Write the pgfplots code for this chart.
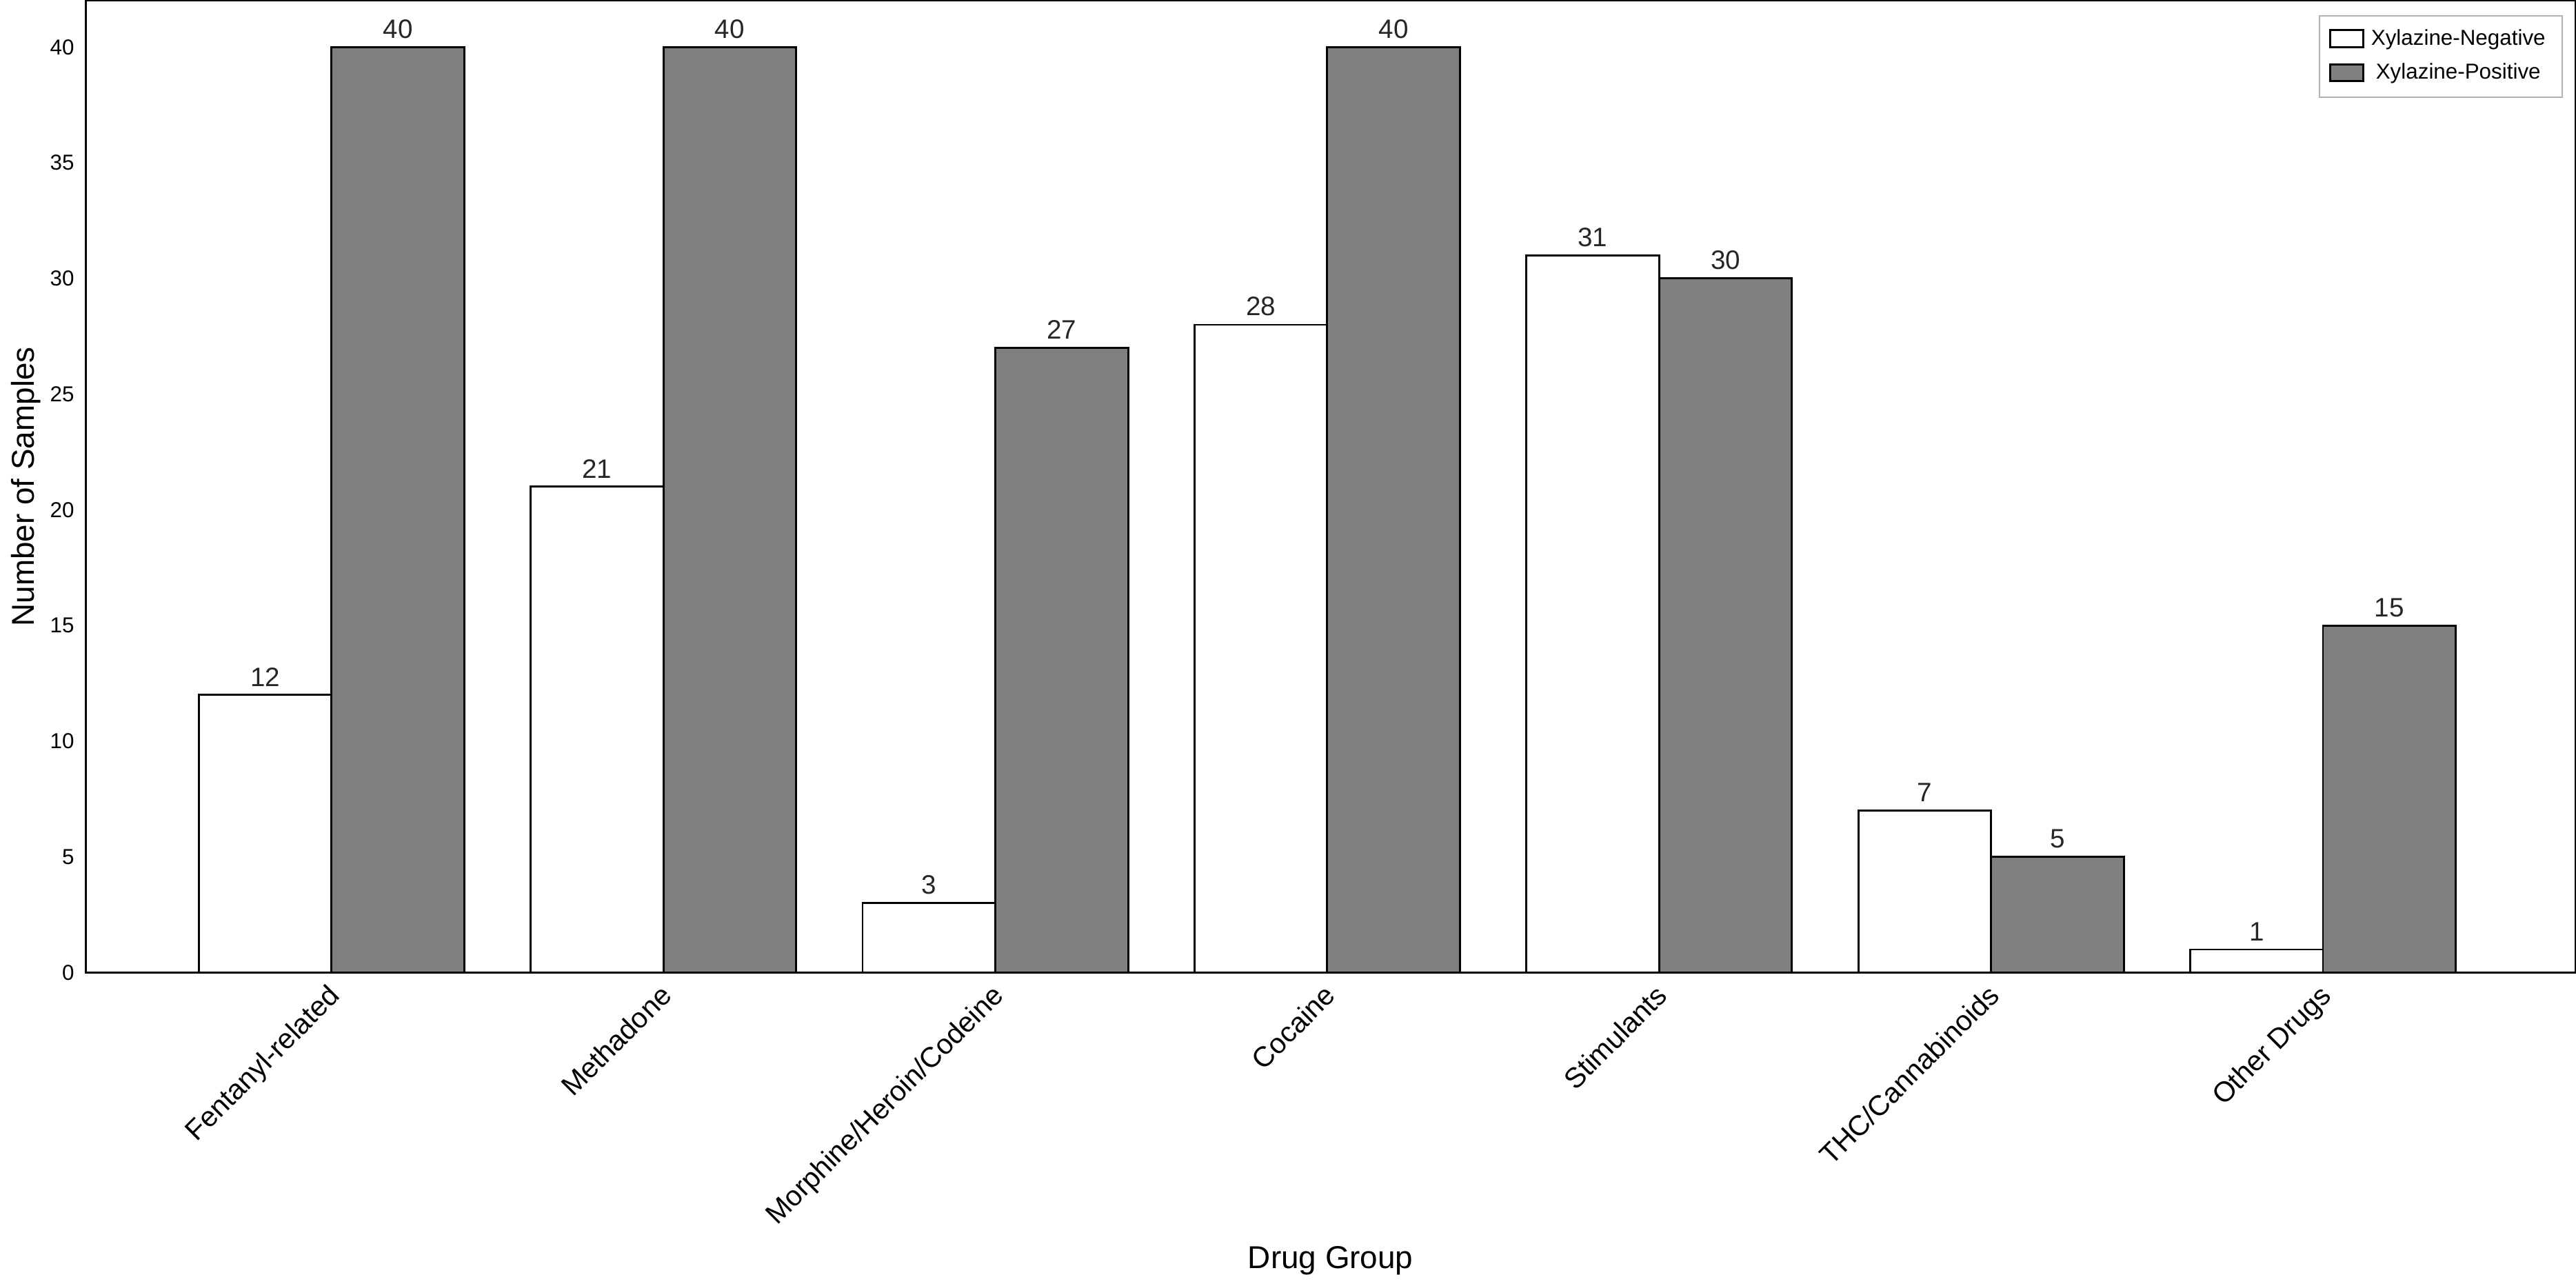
\documentclass[border=0pt]{standalone}
\usepackage{pgfplots}
\pgfplotsset{compat=1.18}
\usepackage{fontspec}
\setmainfont{Liberation Sans}
\begin{document}
\begin{tikzpicture}
\begin{axis}[
  width=748pt, height=292pt, scale only axis,
  xmin=-0.74, xmax=6.76, ymin=0, ymax=42,
  xtick={0,...,6},
  xticklabels={Fentanyl-related,Methadone,Morphine/Heroin/Codeine,Cocaine,Stimulants,THC/Cannabinoids,Other Drugs},
  xticklabel style={rotate=45, anchor=north east, font=\fontsize{8.5}{9}\selectfont, inner sep=1pt, xshift=-2pt},
  ytick={0,5,...,40},
  yticklabel style={font=\fontsize{6.5}{7}\selectfont},
  /pgf/number format/assume math mode=true,
  tick style={draw=none},
  xlabel={Drug Group}, ylabel={Number of Samples},
  xlabel style={font=\fontsize{9.5}{11}\selectfont},
  ylabel style={font=\fontsize{9.5}{11}\selectfont, yshift=-4pt},
  axis line style={black, line width=0.5pt},
  legend style={at={(0.995,0.985)}, anchor=north east, font=\fontsize{6.5}{7}\selectfont, draw=black!30, row sep=0pt},
  legend image code/.code={\draw[#1, sharp corners] (0cm,-0.08cm) rectangle (0.35cm,0.1cm);},
  nodes near coords,
  every node near coord/.append style={font=\fontsize{8}{9}\selectfont, text=black!85, yshift=-1pt},
]
\addplot[ybar, bar width=0.4, bar shift=0, fill=white, draw=black, line width=0.6pt]
 coordinates {(-0.2,12)(0.8,21)(1.8,3)(2.8,28)(3.8,31)(4.8,7)(5.8,1)};
\addplot[ybar, bar width=0.4, bar shift=0, fill=gray, draw=black, line width=0.6pt]
 coordinates {(0.2,40)(1.2,40)(2.2,27)(3.2,40)(4.2,30)(5.2,5)(6.2,15)};
\legend{Xylazine-Negative,Xylazine-Positive}
\end{axis}
\end{tikzpicture}
\end{document}
